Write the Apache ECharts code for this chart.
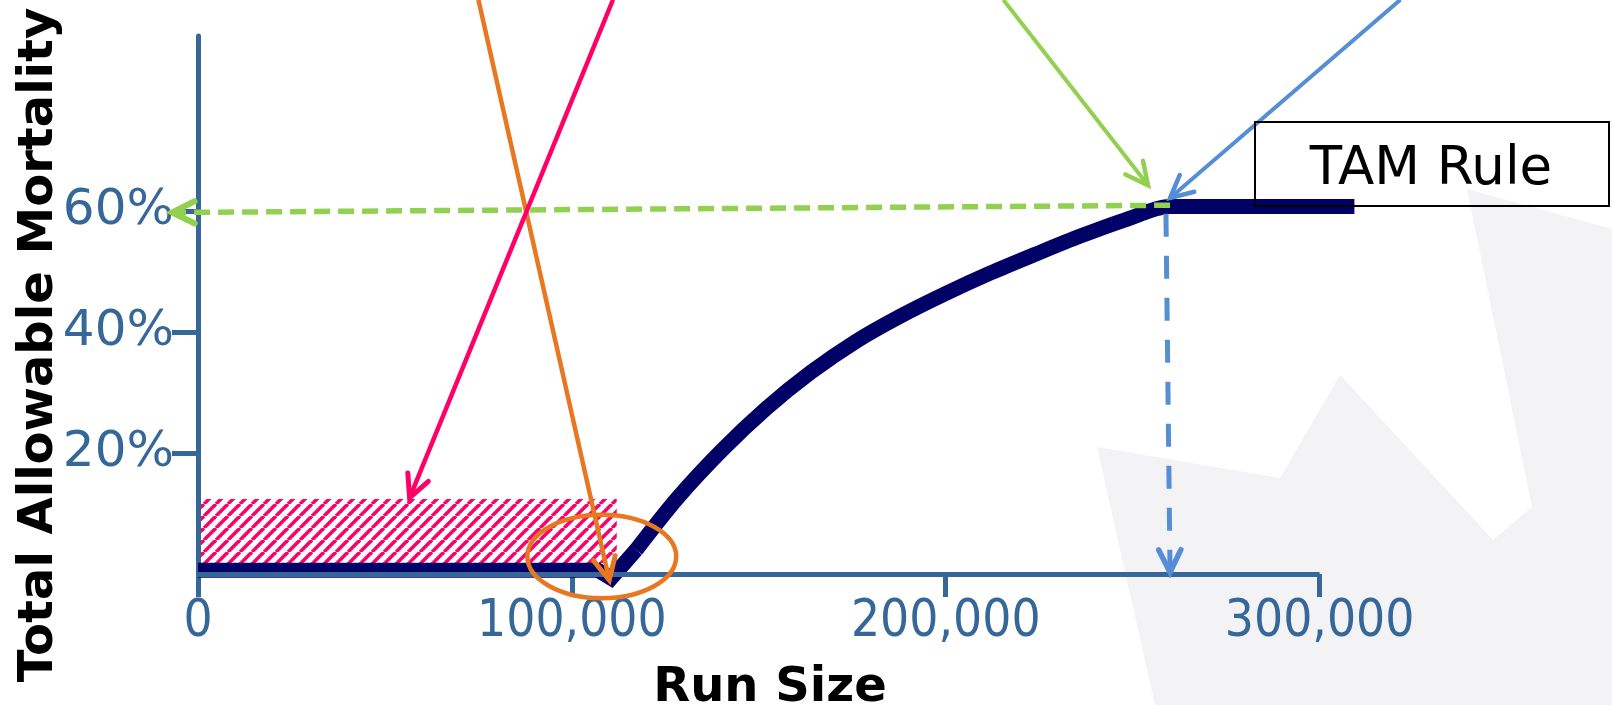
<!DOCTYPE html>
<html>
<head>
<meta charset="utf-8">
<script src="https://cdn.jsdelivr.net/npm/echarts@6/dist/echarts.min.js"></script>
<style>
  html, body { margin: 0; padding: 0; background: #ffffff; }
  #main { width: 1612px; height: 705px; }
</style>
</head>
<body>
<div id="main"></div>
<script>
// Axis ticks: run size (fish) and total allowable mortality (%)
const xTickValues = [0, 100000, 200000, 300000];
const yTickValues = [20, 40, 60];

// TAM rule: low floor below the threshold, then a rising curve up to the cap
const floorRun = [0, 107000, 110500, 117200];
const floorTam = [0.6, 0.6, -0.7, 4.0];
const curveRun = [117200, 128000, 140000, 152000, 164000, 176000, 188000, 200000, 212000, 224000, 236000, 248000, 260000, 309300];
const curveTam = [4.0, 12.4, 20.4, 27.4, 33.4, 38.5, 42.7, 46.4, 49.8, 52.9, 55.9, 58.6, 60.8, 60.8];

// Hatched zone under the threshold run size
const zoneRun = [0, 112000];
const zoneTam = [1.8, 12.4];

// Circled threshold point: centre and half-extent
const ringCentre = [108000, 2.9];
const ringHalf = [19900, 6.9];

// Callout arrows: [fromRun, fromTam, toRun, toTam]
const arrowOrange = [75000, 95, 110000, -1.0];
const arrowPink = [111000, 95, 56600, 12.6];
const arrowGreen = [215400, 95, 254100, 64.3];
const arrowBlue = [321600, 95, 260000, 62.2];
const capToAxisY = [260000, 61.0, -6900, 59.8];
const capToAxisX = [258900, 59.6, 260000, 0.3];

// Drawn extent of the run-size axis line
const xAxisSpan = [0, 300000];

const AXIS = '#366799';
const NAVY = '#000066';
const TICK_FONT = '"DejaVu Sans Condensed", "DejaVu Sans", sans-serif';

function hatchPattern() {
  const p = 12;
  const c = document.createElement('canvas');
  c.width = p; c.height = p;
  const g = c.getContext('2d');
  g.strokeStyle = '#ff0066';
  g.lineWidth = 3.6;
  for (const o of [-p, 0, p]) {
    g.beginPath();
    g.moveTo(o, p);
    g.lineTo(o + p, 0);
    g.stroke();
  }
  return c;
}

const pairs = (xs, ys) => xs.map((x, i) => [x, ys[i]]);

const chart = echarts.init(document.getElementById('main'), null, { renderer: 'canvas' });

const option = {
  animation: false,
  backgroundColor: '#ffffff',
  grid: { left: 198, right: 255, top: 36, bottom: 131 },
  xAxis: {
    type: 'value', min: 0, max: 310000, z: 3,
    axisLine: { show: false },
    axisTick: { show: true, length: 23, customValues: xTickValues, lineStyle: { color: AXIS, width: 5 } },
    axisLabel: {
      customValues: xTickValues,
      formatter: v => v.toLocaleString('en-US'),
      color: AXIS, fontSize: 51, fontFamily: TICK_FONT, margin: 23
    },
    splitLine: { show: false }
  },
  yAxis: {
    type: 'value', min: 0, max: 89, z: 3,
    axisLine: { show: true, onZero: false, lineStyle: { color: AXIS, width: 5 } },
    axisTick: { show: true, length: 26, customValues: yTickValues, lineStyle: { color: AXIS, width: 5 } },
    axisLabel: {
      customValues: yTickValues,
      formatter: v => v + '%',
      color: AXIS, fontSize: 50, fontFamily: '"DejaVu Sans", sans-serif', margin: 24
    },
    splitLine: { show: false }
  },
  series: [
    {
      name: 'zone', type: 'line', data: [], silent: true,
      markArea: {
        silent: true,
        itemStyle: { color: { image: hatchPattern(), repeat: 'repeat' } },
        data: [[{ xAxis: zoneRun[0], yAxis: zoneTam[0] }, { xAxis: zoneRun[1], yAxis: zoneTam[1] }]]
      }
    },
    {
      name: 'floor', type: 'line', data: pairs(floorRun, floorTam),
      symbol: 'none', clip: false, silent: true,
      lineStyle: { color: NAVY, width: 15, join: 'miter', cap: 'butt' }
    },
    {
      name: 'TAM', type: 'line', data: pairs(curveRun, curveTam),
      symbol: 'none', clip: false, silent: true, smooth: 0.3,
      lineStyle: { color: NAVY, width: 15, join: 'round', cap: 'butt' }
    },
    {
      name: 'run axis', type: 'line', data: [], silent: true, z: 4,
      markLine: {
        silent: true, symbol: ['none', 'none'],
        label: { show: false },
        lineStyle: { color: AXIS, width: 5, type: 'solid' },
        emphasis: { disabled: true },
        data: [[{ coord: [xAxisSpan[0], 0] }, { coord: [xAxisSpan[1], 0] }]]
      }
    }
  ]
};

chart.setOption(option);

const px = (x, y) => chart.convertToPixel({ gridIndex: 0 }, [x, y]);

function arrow(a, color, width, dash) {
  const p0 = px(a[0], a[1]);
  const p1 = px(a[2], a[3]);
  const ang = Math.atan2(p0[1] - p1[1], p0[0] - p1[0]);
  const L = 25, h = 0.46;
  const w1 = [p1[0] + L * Math.cos(ang + h), p1[1] + L * Math.sin(ang + h)];
  const w2 = [p1[0] + L * Math.cos(ang - h), p1[1] + L * Math.sin(ang - h)];
  return [
    {
      type: 'line', z: 20, silent: true,
      shape: { x1: p0[0], y1: p0[1], x2: p1[0], y2: p1[1] },
      style: { stroke: color, lineWidth: width, lineDash: dash || null, lineCap: 'butt' }
    },
    {
      type: 'polyline', z: 20, silent: true,
      shape: { points: [w1, p1, w2] },
      style: { stroke: color, lineWidth: width + 0.5, fill: null, lineJoin: 'miter', lineCap: 'round' }
    }
  ];
}

const c0 = px(ringCentre[0], ringCentre[1]);
const cx1 = px(ringCentre[0] + ringHalf[0], ringCentre[1]);
const cy1 = px(ringCentre[0], ringCentre[1] + ringHalf[1]);

const graphics = [
  // faint background emblem
  {
    type: 'polygon', z: -10, silent: true,
    shape: { points: [[1155, 705], [1097, 447], [1280, 478], [1340, 375], [1493, 540], [1532, 507], [1467, 189], [1612, 229], [1612, 705]] },
    style: { fill: '#f3f3f6' }
  },
  {
    type: 'ellipse', z: 20, silent: true,
    shape: { cx: c0[0], cy: c0[1], rx: Math.abs(cx1[0] - c0[0]), ry: Math.abs(c0[1] - cy1[1]) },
    style: { fill: null, stroke: '#e87722', lineWidth: 4.5 }
  },
  ...arrow(arrowOrange, '#e87722', 4.5),
  ...arrow(arrowPink, '#ff0066', 4.5),
  ...arrow(arrowGreen, '#92d050', 4),
  ...arrow(arrowBlue, '#558ed5', 4),
  ...arrow(capToAxisY, '#92d050', 5.5, [16, 8]),
  ...arrow(capToAxisX, '#558ed5', 5, [23, 19]),
  {
    type: 'rect', z: 25, silent: true,
    shape: { x: 1255, y: 122, width: 354, height: 84 },
    style: { fill: null, stroke: '#000000', lineWidth: 2 }
  },
  {
    type: 'text', z: 26, silent: true, x: 1431, y: 170,
    style: { text: 'TAM Rule', font: '53px "DejaVu Sans"', fill: '#000000', align: 'center', verticalAlign: 'middle' }
  },
  {
    type: 'text', z: 26, silent: true, x: 40, y: 345, rotation: Math.PI / 2,
    style: { text: 'Total Allowable Mortality', font: 'bold 48px "DejaVu Sans"', fill: '#000000', align: 'center', verticalAlign: 'middle' }
  },
  {
    type: 'text', z: 26, silent: true, x: 770, y: 689,
    style: { text: 'Run Size', font: 'bold 48px "DejaVu Sans"', fill: '#000000', align: 'center', verticalAlign: 'middle' }
  }
];

chart.setOption({ graphic: graphics });
</script>
</body>
</html>
